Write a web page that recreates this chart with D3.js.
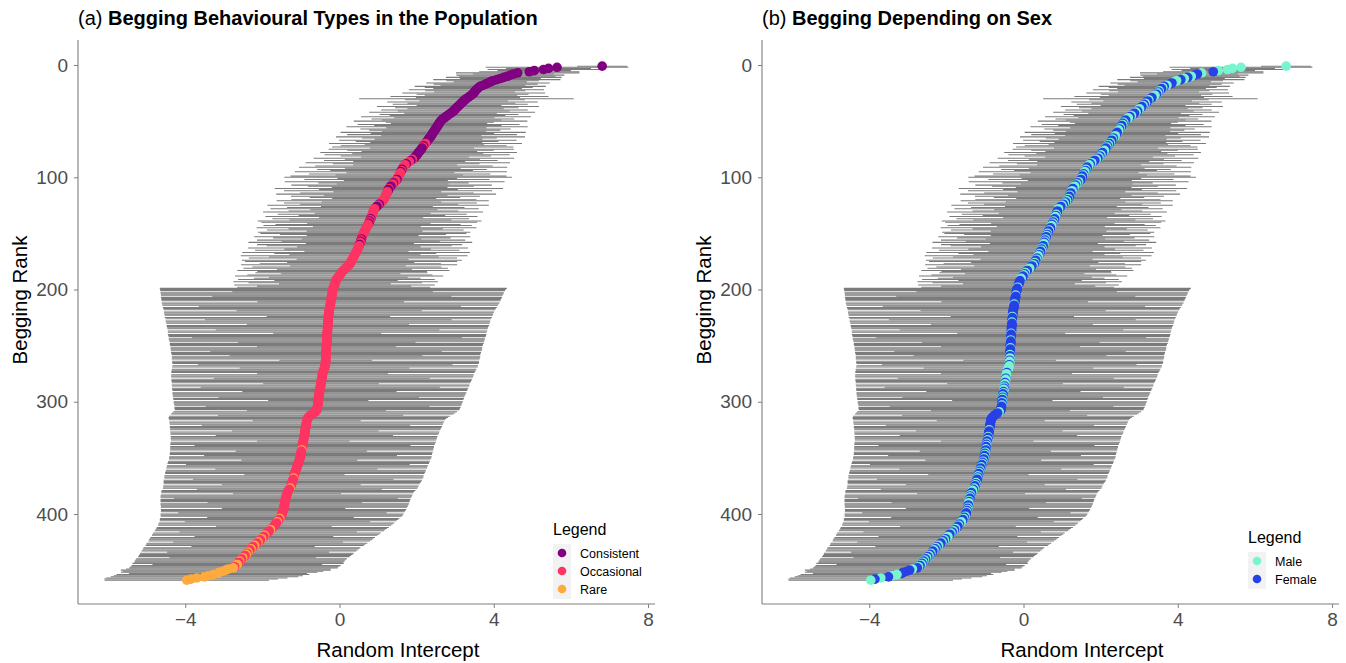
<!DOCTYPE html>
<html>
<head>
<meta charset="utf-8">
<script src="https://cdn.jsdelivr.net/npm/d3@7"></script>
<style>
  body { margin: 0; background: #fff; }
  svg { font-family: "Liberation Sans", Arial, sans-serif; }
</style>
</head>
<body>
<svg id="chart" width="1346" height="663"></svg>
<script>
// posterior estimate of the random intercept, ordered by begging rank (1 = top)
const estimate = [
  6.81, 5.64, 5.42, 5.29, 5.05, 4.92, 4.62, 4.51, 4.43, 4.35,
  4.26, 4.17, 4.08, 3.97, 3.91, 3.85, 3.79, 3.72, 3.65, 3.61,
  3.58, 3.55, 3.52, 3.50, 3.48, 3.45, 3.41, 3.37, 3.33, 3.29,
  3.25, 3.22, 3.19, 3.16, 3.13, 3.10, 3.07, 3.04, 3.01, 2.98,
  2.96, 2.92, 2.88, 2.84, 2.80, 2.76, 2.72, 2.68, 2.65, 2.62,
  2.60, 2.58, 2.57, 2.55, 2.53, 2.51, 2.49, 2.47, 2.45, 2.43,
  2.41, 2.40, 2.38, 2.36, 2.33, 2.31, 2.29, 2.27, 2.25, 2.23,
  2.20, 2.18, 2.16, 2.14, 2.12, 2.10, 2.07, 2.05, 2.03, 2.01,
  1.98, 1.96, 1.93, 1.89, 1.85, 1.81, 1.77, 1.73, 1.70, 1.67,
  1.65, 1.64, 1.62, 1.61, 1.59, 1.58, 1.56, 1.55, 1.53, 1.52,
  1.50, 1.49, 1.46, 1.43, 1.40, 1.38, 1.35, 1.33, 1.30, 1.28,
  1.27, 1.26, 1.24, 1.23, 1.21, 1.20, 1.19, 1.18, 1.16, 1.15,
  1.12, 1.09, 1.06, 1.03, 1.00, 0.97, 0.94, 0.91, 0.89, 0.88,
  0.87, 0.86, 0.85, 0.84, 0.83, 0.82, 0.81, 0.80, 0.78, 0.77,
  0.76, 0.74, 0.73, 0.71, 0.70, 0.68, 0.67, 0.65, 0.64, 0.62,
  0.61, 0.60, 0.59, 0.58, 0.57, 0.56, 0.55, 0.54, 0.53, 0.52,
  0.51, 0.50, 0.48, 0.47, 0.46, 0.44, 0.43, 0.41, 0.40, 0.38,
  0.37, 0.35, 0.34, 0.32, 0.30, 0.29, 0.28, 0.25, 0.22, 0.19,
  0.16, 0.13, 0.10, 0.07, 0.05, 0.03, 0.01, -0.01, -0.03, -0.06,
  -0.08, -0.09, -0.10, -0.11, -0.12, -0.13, -0.14, -0.15, -0.16, -0.17,
  -0.18, -0.18, -0.19, -0.19, -0.20, -0.20, -0.21, -0.21, -0.22, -0.22,
  -0.23, -0.23, -0.24, -0.24, -0.25, -0.25, -0.26, -0.26, -0.27, -0.27,
  -0.28, -0.28, -0.28, -0.29, -0.29, -0.29, -0.29, -0.30, -0.30, -0.30,
  -0.30, -0.30, -0.31, -0.31, -0.31, -0.31, -0.31, -0.32, -0.32, -0.32,
  -0.32, -0.32, -0.32, -0.33, -0.33, -0.33, -0.33, -0.33, -0.34, -0.34,
  -0.34, -0.34, -0.34, -0.34, -0.35, -0.35, -0.35, -0.35, -0.35, -0.35,
  -0.35, -0.36, -0.36, -0.36, -0.36, -0.36, -0.37, -0.37, -0.38, -0.39,
  -0.40, -0.41, -0.42, -0.43, -0.44, -0.44, -0.45, -0.45, -0.46, -0.46,
  -0.47, -0.47, -0.48, -0.48, -0.49, -0.49, -0.50, -0.50, -0.51, -0.51,
  -0.52, -0.52, -0.53, -0.53, -0.54, -0.54, -0.54, -0.55, -0.55, -0.55,
  -0.56, -0.56, -0.56, -0.57, -0.57, -0.58, -0.58, -0.60, -0.63, -0.67,
  -0.71, -0.75, -0.78, -0.81, -0.83, -0.84, -0.85, -0.85, -0.86, -0.86,
  -0.87, -0.87, -0.88, -0.88, -0.89, -0.89, -0.90, -0.90, -0.91, -0.91,
  -0.92, -0.92, -0.93, -0.93, -0.94, -0.94, -0.95, -0.96, -0.96, -0.97,
  -0.97, -0.98, -0.98, -0.99, -0.99, -1.00, -1.00, -1.01, -1.01, -1.02,
  -1.03, -1.04, -1.05, -1.06, -1.07, -1.08, -1.09, -1.10, -1.11, -1.12,
  -1.13, -1.14, -1.15, -1.16, -1.17, -1.18, -1.18, -1.19, -1.20, -1.21,
  -1.22, -1.23, -1.24, -1.25, -1.26, -1.27, -1.28, -1.30, -1.32, -1.34,
  -1.35, -1.36, -1.37, -1.38, -1.39, -1.39, -1.40, -1.41, -1.41, -1.42,
  -1.42, -1.43, -1.43, -1.44, -1.45, -1.45, -1.46, -1.47, -1.48, -1.49,
  -1.50, -1.51, -1.53, -1.55, -1.57, -1.59, -1.61, -1.63, -1.66, -1.68,
  -1.70, -1.73, -1.76, -1.79, -1.82, -1.85, -1.88, -1.91, -1.94, -1.96,
  -1.99, -2.02, -2.05, -2.08, -2.11, -2.14, -2.17, -2.20, -2.24, -2.27,
  -2.29, -2.32, -2.35, -2.37, -2.40, -2.42, -2.45, -2.48, -2.51, -2.54,
  -2.57, -2.59, -2.61, -2.63, -2.65, -2.68, -2.72, -2.75, -2.88, -2.95,
  -3.02, -3.12, -3.15, -3.28, -3.40, -3.50, -3.70, -3.85, -3.96
];

// half width of each credible interval (same order)
const halfWidth = [
  0.65, 1.85, 1.10, 1.45, 0.95, 1.30, 1.60, 1.05, 1.40, 1.25,
  1.50, 1.05, 1.65, 1.20, 0.95, 1.60, 1.35, 1.10, 1.70, 1.40,
  1.15, 1.75, 1.30, 1.05, 1.85, 1.45, 1.20, 2.05, 1.35, 2.78,
  1.55, 1.15, 1.95, 1.40, 1.75, 1.10, 2.10, 1.60, 1.25, 1.90,
  1.45, 2.15, 1.20, 1.80, 1.50, 2.20, 1.30, 1.85, 1.55, 2.25,
  1.40, 1.25, 2.10, 1.65, 2.35, 1.30, 1.95, 1.70, 1.35, 2.40,
  1.60, 2.20, 1.30, 2.45, 1.75, 1.40, 2.30, 1.85, 1.45, 2.50,
  1.55, 2.15, 2.35, 1.35, 2.40, 1.90, 1.50, 2.55, 1.70, 2.40,
  1.95, 1.40, 2.60, 1.75, 2.25, 1.45, 2.65, 1.90, 1.35, 2.30,
  2.70, 1.50, 2.20, 1.85, 2.75, 1.40, 2.35, 1.65, 2.80, 2.95,
  1.55, 2.40, 1.35, 2.85, 1.95, 1.45, 2.60, 2.15, 1.50, 2.96,
  1.80, 2.70, 1.40, 2.25, 2.85, 1.60, 2.45, 1.95, 1.35, 2.40,
  2.75, 1.55, 2.50, 2.05, 2.87, 1.45, 2.30, 2.70, 1.65, 2.20,
  2.85, 1.50, 2.45, 1.90, 2.75, 1.35, 2.55, 2.10, 2.90, 2.80,
  1.60, 2.40, 2.70, 1.40, 2.85, 2.00, 2.55, 1.50, 2.75, 2.67,
  2.15, 1.45, 2.80, 2.30, 1.55, 2.70, 2.05, 2.90, 1.40, 2.66,
  2.40, 1.60, 2.85, 1.90, 2.65, 1.35, 2.95, 2.10, 1.70, 2.94,
  2.20, 2.70, 1.45, 2.85, 2.75, 1.65, 2.35, 2.80, 1.50, 2.45,
  2.65, 1.75, 2.75, 2.20, 2.23, 1.55, 2.40, 2.70, 1.80, 2.16,
  2.55, 1.60, 2.65, 2.25, 1.45, 2.60, 2.00, 2.50,
  4.50, 4.48, 4.47, 2.60, 4.45, 4.44, 4.43, 3.10, 4.42, 4.41,
  4.40, 4.39, 1.90, 4.38, 4.36, 4.35, 3.40, 4.33, 4.31, 4.30,
  2.40, 4.28, 4.27, 4.26, 4.25, 1.60, 4.24, 4.22, 3.20, 4.21,
  4.20, 4.19, 2.10, 4.18, 4.17, 4.16, 4.15, 2.90, 4.14, 4.13,
  1.40, 4.13, 4.12, 4.11, 3.50, 4.10, 4.09, 4.08, 2.30, 4.07,
  4.06, 4.05, 1.80, 4.04, 4.04, 4.03, 3.00, 4.02, 4.01, 4.00,
  2.50, 4.00, 3.99, 3.99, 1.20, 3.98, 3.98, 3.97, 3.30, 3.96,
  3.96, 2.20, 3.95, 3.94, 3.94, 3.93, 1.70, 3.92, 3.92, 3.91,
  2.80, 3.90, 3.89, 3.88, 3.87, 1.50, 3.86, 3.85, 3.10, 3.84,
  3.83, 3.82, 2.00, 3.81, 3.80, 3.79, 3.78, 2.60, 3.77, 3.76,
  1.30, 3.75, 3.74, 3.73, 3.72, 2.90, 3.71, 3.70, 3.69, 1.80,
  3.68, 3.67, 3.66, 2.40, 3.64, 3.62, 3.60, 3.58, 1.40, 3.56,
  3.55, 3.54, 2.70, 3.53, 3.52, 3.51, 3.50, 1.90, 3.49, 3.48,
  3.47, 2.30, 3.46, 3.45, 3.45, 3.44, 1.20, 3.44, 3.43, 3.43,
  2.80, 3.42, 3.42, 3.41, 3.41, 1.70, 3.41, 3.40, 3.40, 2.50,
  3.40, 3.40, 3.39, 1.50, 3.39, 3.39, 3.39, 2.90, 3.38, 3.38,
  3.38, 2.10, 3.37, 3.37, 3.37, 3.36, 1.30, 3.36, 3.36, 3.35,
  2.60, 3.35, 3.34, 3.33, 3.32, 1.80, 3.31, 3.30, 3.30, 2.40,
  3.29, 3.28, 3.27, 1.40, 3.26, 3.26, 3.25, 2.90, 3.24, 3.23,
  3.23, 2.00, 3.22, 3.21, 3.20, 3.19, 1.60, 3.18, 3.17, 3.16,
  2.70, 3.15, 3.14, 3.12, 1.90, 3.10, 3.09, 3.07, 2.40, 3.05,
  3.04, 3.02, 1.50, 3.01, 2.99, 2.98, 2.97, 2.30, 2.95, 2.94,
  2.92, 1.80, 2.91, 2.90, 2.89, 2.87, 2.20, 2.86, 2.84, 2.83,
  1.60, 2.81, 2.80, 2.79, 2.78, 2.10, 2.77, 2.76, 2.75, 2.74,
  1.90, 2.73, 2.72, 2.72, 2.71, 2.74, 2.20, 2.71, 2.70, 2.70,
  2.65, 2.72, 2.60, 2.55, 2.31, 2.50, 2.45, 2.43, 2.35, 2.25, 2.13
];

// behavioural type per rank: C = Consistent, O = Occasional, R = Rare
const typeCodes = [
  "CCCCCCCCCC", "CCCCCCCCCC", "CCCCCCCCCC", "CCCCCCCCCC", "CCCCCCCCCC",
  "CCCCCCCCCC", "CCCCCCCCCO", "OCOCCCCCCC", "CCCOCOOCOO", "OOCOCOOOOO",
  "OCOOCOOCCO", "CCOOOOOOOO", "OOOCOCCOOO", "OOOOOOCOCO", "COOOOOOOOO",
  "OOOOCOCOOC", "OOOOOOOOOO", "OOOOOOOOOO", "OOOOOOOOOO", "OOOOOOOOOO",
  "OOOOOOOOOO", "OOOOOOOOOO", "OOOOOOOOOO", "OOOOOOOOOO", "OOOOOOOOOO",
  "OOOOOOOOOO", "OOOOOOOOOO", "OOOOOOOOOO", "OOOOOOOOOO", "OOOOOOOOOO",
  "OOOOOOOOOO", "OOOOOOOOOO", "OOOOOOOOOO", "OOOOOOOOOO", "OOROOOOOOO",
  "OOOOOOOOOO", "OOOOOOOROO", "OOOOOOROOO", "OOOOOOOOOO", "OOOOOOOOOO",
  "OOOROOROOO", "OOOROOOORO", "OROOROOROO", "ROOROROORO", "OROORRORRR",
  "RRRRRRRRR"
].join("");

// sex per rank: M = Male, F = Female
const sexCodes = [
  "MMMMMFMFFM", "FMFMMFFMFM", "FFMFMFMMFF", "MFFMFMFFMM", "FMFFMFMMFF",
  "MFMFFMFMMF", "FFMMFMFFMF", "MFMFFMMFFM", "FMFMFFMFMM", "FFMFMMFMFF",
  "MFFMFMFMMF", "FMMFFMFFMF", "MFMFMFFMMF", "FFMFMMFFMF", "MFMMFFMFFM",
  "FMFFMFMFMM", "FFMFMFFMFM", "MFMFFMFMFF", "MMFFMFMFFM", "MFFFFFFMFF",
  "FFFFMFFFFF", "FFMFFFFFFF", "FFFMFFFFMF", "FFFFFFFFMF", "FFFFMFFFFF",
  "FMFFFFFMFF", "MMFMMMFMMM", "MMMFMMMMFM", "MMFMMFMFMM", "FMFFMFMFFM",
  "FFMFFFFFMF", "FFFFFFFFFF", "FFFFMFFFFF", "MFFMFFMFMF", "FMFFMFMFFM",
  "FFMFMFFMFF", "MFMFFMFMFF", "FMFMFFMFMM", "FFMFMFFMFM", "MFFMFMFMFF",
  "FMFMFFMMFM", "FFMFMFMFFM", "MFMFMFFMFM", "FMFFMFMFMF", "MFMFMFMFMF",
  "FFFMMFMFM"
].join("");

const typeKeys = ["C", "O", "R"];
const typeLabels = ["Consistent", "Occasional", "Rare"];
const typeColours = ["#800080", "#FF3462", "#FFAA3C"];

const sexKeys = ["M", "F"];
const sexLabels = ["Male", "Female"];
const sexColours = ["#78F5D0", "#2840E6"];

const xTicks = [-4, 0, 4, 8];
const yTicks = [0, 100, 200, 300, 400];

const rows = estimate.map((e, i) => ({
  rank: i + 1,
  est: e,
  lo: e - halfWidth[i],
  hi: e + halfWidth[i],
  type: typeCodes[i],
  sex: sexCodes[i]
}));

const svg = d3.select('#chart');

const yScale = d3.scaleLinear().domain([-22.3, 480.2]).range([40, 604]);

function drawPanel(cfg) {
  const xScale = d3.scaleLinear().domain([-6.78, 8.18]).range([cfg.left, cfg.left + 577]);
  const colour = d3.scaleOrdinal(cfg.keys, cfg.colours);
  const g = svg.append('g');

  // title
  const title = g.append('text')
    .attr('x', cfg.left)
    .attr('y', 25)
    .style('font-size', '20px')
    .style('fill', '#000');
  title.append('tspan').text(cfg.tag + ' ');
  title.append('tspan').text(cfg.title).style('font-weight', 'bold');

  // error bars
  g.append('g')
    .selectAll('line')
    .data(rows)
    .join('line')
    .attr('x1', d => xScale(d.lo))
    .attr('x2', d => xScale(d.hi))
    .attr('y1', d => yScale(d.rank))
    .attr('y2', d => yScale(d.rank))
    .attr('stroke', '#7b7b7b')
    .attr('stroke-width', 1.05);

  // points
  g.append('g')
    .selectAll('circle')
    .data(rows)
    .join('circle')
    .attr('cx', d => xScale(d.est))
    .attr('cy', d => yScale(d.rank))
    .attr('r', 4.8)
    .attr('fill', d => colour(d[cfg.field]));

  // axes
  const xAxis = d3.axisBottom(xScale).tickValues(xTicks).tickSizeInner(4).tickSizeOuter(0).tickPadding(5);
  const xg = g.append('g').attr('transform', 'translate(0,604)').call(xAxis);
  const yAxis = d3.axisLeft(yScale).tickValues(yTicks).tickSizeInner(4).tickSizeOuter(0).tickPadding(6);
  const yg = g.append('g').attr('transform', `translate(${cfg.left},0)`).call(yAxis);
  [xg, yg].forEach(a => {
    a.select('.domain').attr('stroke', '#7f7f7f').attr('stroke-width', 1.1);
    a.selectAll('.tick line').attr('stroke', '#7f7f7f');
    a.selectAll('.tick text')
      .style('font-family', '"Liberation Sans", Arial, sans-serif')
      .style('font-size', '19px')
      .style('fill', '#4d4d4d');
  });
  // domain line: extend to panel ends
  xg.select('.domain').attr('d', `M${cfg.left},0H${cfg.left + 577}`);
  yg.select('.domain').attr('d', `M0,40V604`);

  // axis titles
  g.append('text')
    .attr('x', cfg.left + 320)
    .attr('y', 657)
    .attr('text-anchor', 'middle')
    .style('font-size', '20.5px')
    .text('Random Intercept');
  g.append('text')
    .attr('transform', `translate(${cfg.left - 51},300) rotate(-90)`)
    .attr('text-anchor', 'middle')
    .style('font-size', '20.5px')
    .text('Begging Rank');

  // legend
  const lg = g.append('g').attr('transform', `translate(${cfg.legendX},${cfg.legendY})`);
  lg.append('text')
    .attr('x', 0)
    .attr('y', 0)
    .style('font-size', '16px')
    .text('Legend');
  const keyH = 18;
  lg.append('rect')
    .attr('x', 0)
    .attr('y', 9)
    .attr('width', 18)
    .attr('height', cfg.labels.length * keyH + 1)
    .attr('fill', '#f2f2f2');
  cfg.labels.forEach((lab, i) => {
    const cy = 9 + keyH / 2 + i * keyH;
    lg.append('circle')
      .attr('cx', 9)
      .attr('cy', cy)
      .attr('r', 4.3)
      .attr('fill', cfg.colours[i]);
    lg.append('text')
      .attr('x', 27)
      .attr('y', cy + 4.5)
      .style('font-size', '12.5px')
      .text(lab);
  });
}

drawPanel({
  left: 78, tag: '(a)', title: 'Begging Behavioural Types in the Population',
  field: 'type', keys: typeKeys, colours: typeColours, labels: typeLabels,
  legendX: 553, legendY: 535
});
drawPanel({
  left: 762, tag: '(b)', title: 'Begging Depending on Sex',
  field: 'sex', keys: sexKeys, colours: sexColours, labels: sexLabels,
  legendX: 1248, legendY: 543
});
</script>
</body>
</html>
